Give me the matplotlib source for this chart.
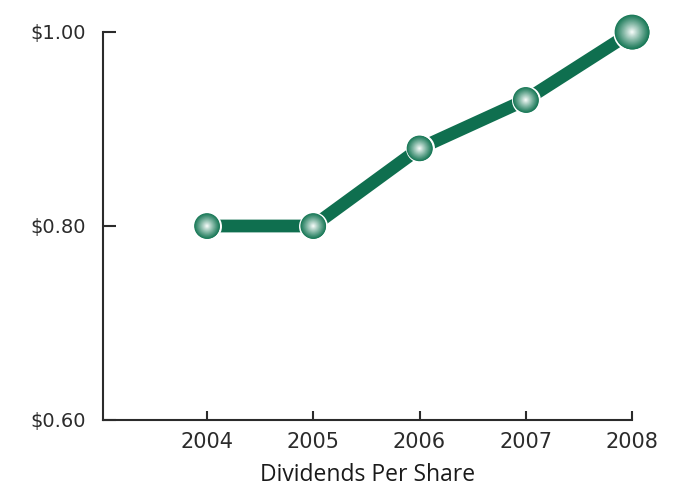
import numpy as np
import matplotlib
matplotlib.use("Agg")
import matplotlib.pyplot as plt
from matplotlib.colors import to_rgb

plt.rcParams["font.family"] = ["DejaVu Sans"]

years = [2004, 2005, 2006, 2007, 2008]
dividends = [0.80, 0.80, 0.88, 0.93, 1.00]
y_ticks = [0.60, 0.80, 1.00]
y_labels = ["$0.60", "$0.80", "$1.00"]

LINE_GREEN = "#0f6f4f"
BALL_EDGE = "#137553"
BALL_CENTER = "#f7fcfa"

fig = plt.figure(figsize=(6.75, 4.87), dpi=100)
ax = fig.add_axes([103 / 675, 1 - 420 / 487, (632 - 103) / 675, (420 - 32) / 487])

ax.plot(years, dividends, color=LINE_GREEN, lw=9.2, solid_capstyle="butt", zorder=2)

# shaded balls: stack of shrinking discs fading to white
def draw_balls(xs, ys, size):
    ax.scatter(xs, ys, s=size, color=BALL_EDGE, edgecolors="white",
               linewidths=1.6, zorder=3, clip_on=False)
    c0 = np.array(to_rgb(BALL_EDGE))
    c1 = np.array(to_rgb(BALL_CENTER))
    n = 24
    for i in range(1, n + 1):
        t = i / n
        col = c0 + (c1 - c0) * t ** 1.1
        r = 1 - t * 0.97
        ax.scatter(xs, ys, s=size * r ** 2, color=col, edgecolors="none",
                   zorder=3 + i, clip_on=False)

draw_balls(years[:-1], dividends[:-1], 370)
draw_balls(years[-1:], dividends[-1:], 680)

ax.set_xlim(2004 - 104 / 106.25, 2008)
ax.set_ylim(0.60, 1.00)
ax.set_xticks(years)
ax.set_yticks(y_ticks)
ax.set_yticklabels(y_labels)

for side in ["top", "right"]:
    ax.spines[side].set_visible(False)
for side in ["left", "bottom"]:
    ax.spines[side].set_color("#2b2b2b")
    ax.spines[side].set_linewidth(1.5)

ax.tick_params(axis="y", direction="in", length=9, width=1.5, color="#2b2b2b",
               pad=12, labelsize=14, labelcolor="#2b2b2b")
ax.tick_params(axis="x", direction="in", length=6.5, width=1.5, color="#2b2b2b",
               pad=9, labelsize=15, labelcolor="#2b2b2b")

ax.set_xlabel("Dividends Per Share", fontsize=16.5, family="Open Sans",
              color="#1a1a1a", labelpad=7.5)

fig.savefig("out.png", dpi=100)
